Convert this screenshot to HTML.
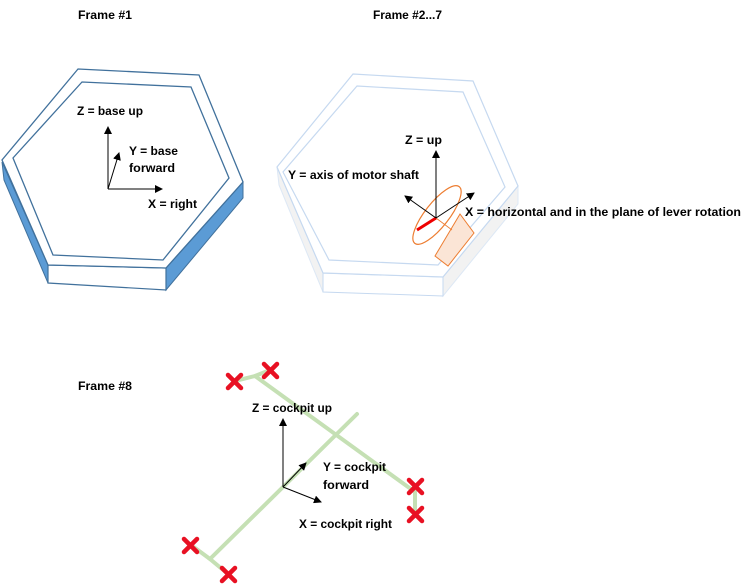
<!DOCTYPE html>
<html><head><meta charset="utf-8"><style>
html,body{margin:0;padding:0;background:#fff;}
svg{display:block;}
text{font-family:"Liberation Sans",sans-serif;font-weight:bold;font-size:12px;fill:#000;}
</style></head><body>
<svg width="753" height="584" viewBox="0 0 753 584" xmlns="http://www.w3.org/2000/svg">
<defs>
<marker id="ah" markerWidth="8" markerHeight="8" refX="7" refY="4" orient="auto" markerUnits="userSpaceOnUse">
<path d="M0,0 L8,4 L0,8 z" fill="#000"/></marker>
</defs>
<text x="78" y="19" textLength="54" lengthAdjust="spacingAndGlyphs">Frame #1</text>
<text x="373" y="19" textLength="69" lengthAdjust="spacingAndGlyphs">Frame #2...7</text>
<text x="78" y="390" textLength="54" lengthAdjust="spacingAndGlyphs">Frame #8</text>

<!-- Frame 1 -->
<polygon points="2,162 48,265 48,283 4,180" fill="#5b9bd5" stroke="#41719c" stroke-width="1"/>
<polygon points="243,182 166,268 166,290 243,198" fill="#5b9bd5" stroke="#41719c" stroke-width="1"/>
<polygon points="48,265 166,268 166,290 48,283" fill="#fff" stroke="#41719c" stroke-width="1.2"/>
<polygon points="78,69 199,75 243,182 166,268 48,265 2,160" fill="#fff" stroke="#41719c" stroke-width="1.3"/>
<polygon points="82,82 191,87 229,178 163,260 53,255 13,158" fill="#fff" stroke="#41719c" stroke-width="1.3"/>
<line x1="108" y1="189" x2="108" y2="127" stroke="#000" marker-end="url(#ah)"/>
<line x1="108" y1="189" x2="162" y2="189" stroke="#000" marker-end="url(#ah)"/>
<line x1="108" y1="189" x2="119" y2="153" stroke="#000" marker-end="url(#ah)"/>
<text x="77" y="115" textLength="66" lengthAdjust="spacingAndGlyphs">Z = base up</text>
<text x="129" y="155" textLength="49" lengthAdjust="spacingAndGlyphs">Y = base</text>
<text x="129" y="172" textLength="46" lengthAdjust="spacingAndGlyphs">forward</text>
<text x="148" y="208" textLength="49" lengthAdjust="spacingAndGlyphs">X = right</text>

<!-- Frame 2 -->
<polygon points="277,167 323,273 323,292 279,185" fill="#f2f2f2" stroke="#dde8f5"/>
<polygon points="518,186 443,277 443,296 518,204" fill="#f2f2f2" stroke="#dde8f5"/>
<polygon points="323,273 443,277 443,296 323,292" fill="#fff" stroke="#c6d9f0"/>
<polygon points="353,74 473,81 518,186 443,277 323,273 277,167" fill="#fff" stroke="#c6d9f0" stroke-width="1.2"/>
<polygon points="357,86 463,92 505,187 438,265 329,260 283,172" fill="#fff" stroke="#c6d9f0" stroke-width="1.2"/>
<polygon points="460,214 474,233 448,266 435,256" fill="#fbe5d6" stroke="#ed7d31"/>
<line x1="436" y1="218" x2="452" y2="230" stroke="#ed7d31" stroke-width="0.8"/>
<ellipse cx="437" cy="215" rx="36" ry="12" transform="rotate(-52 437 215)" fill="none" stroke="#ed7d31" stroke-width="1.2"/>
<line x1="436" y1="218" x2="417" y2="230" stroke="#e00" stroke-width="3"/>
<line x1="436" y1="218" x2="436" y2="151" stroke="#000" marker-end="url(#ah)"/>
<line x1="436" y1="218" x2="405" y2="196" stroke="#000" marker-end="url(#ah)"/>
<line x1="436" y1="218" x2="474" y2="193" stroke="#000" marker-end="url(#ah)"/>
<text x="405" y="144" textLength="37" lengthAdjust="spacingAndGlyphs">Z = up</text>
<text x="288" y="179" textLength="131" lengthAdjust="spacingAndGlyphs">Y = axis of motor shaft</text>
<text x="465" y="216" textLength="276" lengthAdjust="spacingAndGlyphs">X = horizontal and in the plane of lever rotation</text>

<!-- Frame 8 -->
<g stroke="#c5e0b4" stroke-width="4" fill="none" stroke-linecap="round">
<polyline points="235,381 255,376 415,492 415,514"/>
<polyline points="357,414 210,559 228,574"/>
<line x1="210" y1="559" x2="191" y2="545"/>
<line x1="255" y1="376" x2="270" y2="370"/>
</g>
<g stroke="#e81123" stroke-width="4.5" stroke-linecap="round">
<path d="M228,375 l13,13 M241,375 l-13,13"/>
<path d="M264,364 l13,13 M277,364 l-13,13"/>
<path d="M409,480 l13,13 M422,480 l-13,13"/>
<path d="M409,508 l13,13 M422,508 l-13,13"/>
<path d="M184,539 l13,13 M197,539 l-13,13"/>
<path d="M222,568 l13,13 M235,568 l-13,13"/>
</g>
<line x1="283" y1="487" x2="283" y2="419" stroke="#000" marker-end="url(#ah)"/>
<line x1="283" y1="487" x2="306" y2="463" stroke="#000" marker-end="url(#ah)"/>
<line x1="283" y1="487" x2="321" y2="502" stroke="#000" marker-end="url(#ah)"/>
<text x="252" y="412" textLength="80" lengthAdjust="spacingAndGlyphs">Z = cockpit up</text>
<text x="323" y="471" textLength="63" lengthAdjust="spacingAndGlyphs">Y = cockpit</text>
<text x="323" y="489" textLength="46" lengthAdjust="spacingAndGlyphs">forward</text>
<text x="299" y="528" textLength="93" lengthAdjust="spacingAndGlyphs">X = cockpit right</text>
</svg>
</body></html>
